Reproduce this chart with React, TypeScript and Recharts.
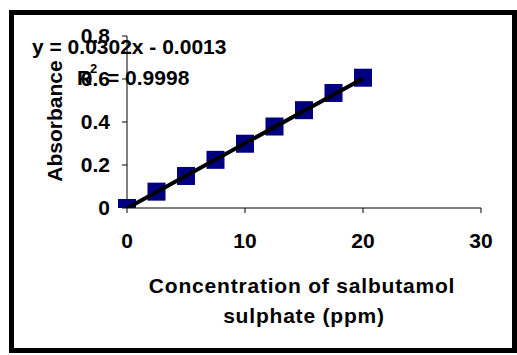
import { ScatterChart, Scatter, XAxis, YAxis } from "recharts";

const concentrations = [0, 2.5, 5, 7.5, 10, 12.5, 15, 17.5, 20];
const absorbances = [0, 0.076, 0.149, 0.224, 0.299, 0.379, 0.455, 0.535, 0.606];
const xTicks = [0, 10, 20, 30];
const yTicks = [0, 0.2, 0.4, 0.6, 0.8];
const slope = 0.0302;
const intercept = -0.0013;
const trendX = [0, 20];

const points = concentrations.map((x, i) => ({ x, y: absorbances[i] }));
const trend = trendX.map((x) => ({ x, y: slope * x + intercept }));

const FONT = "'Liberation Sans', Arial, sans-serif";

const square = (props: any) => {
  const { cx, cy } = props;
  return <rect x={cx - 9} y={cy - 9} width={18} height={18} fill="#000080" />;
};

const tickStyle = { fill: "#000", fontSize: 21, fontWeight: 700, fontFamily: FONT };

export default function App() {
  return (
    <div style={{ position: "absolute", left: 0, top: 0, width: 517, height: 355, background: "#fff" }}>
      <div
        style={{
          position: "absolute",
          left: 9,
          top: 10,
          width: 498,
          height: 333,
          border: "5px solid #000",
        }}
      />
      <div style={{ position: "absolute", left: 0, top: 0 }}>
        <ScatterChart
          width={517}
          height={355}
          margin={{ top: 36, right: 36, bottom: 117, left: 77 }}
        >
          <XAxis
            type="number"
            dataKey="x"
            domain={[0, 30]}
            ticks={xTicks}
            height={30}
            tickSize={5}
            tickMargin={20}
            stroke="#000"
            tick={tickStyle}
            tickLine={{ stroke: "#000" }}
          />
          <YAxis
            type="number"
            dataKey="y"
            domain={[0, 0.8]}
            ticks={yTicks}
            allowDataOverflow
            width={50}
            tickSize={5}
            tickMargin={12}
            stroke="#000"
            tick={tickStyle}
            tickFormatter={(v: number) => String(v)}
          />
          <Scatter data={points} shape={square} isAnimationActive={false} />
          <Scatter
            data={trend}
            line={{ stroke: "#000", strokeWidth: 4 }}
            shape={() => <g />}
            isAnimationActive={false}
          />
        </ScatterChart>
      </div>
      <svg
        width={517}
        height={355}
        style={{ position: "absolute", left: 0, top: 0, pointerEvents: "none" }}
        fontFamily={FONT}
        fontWeight={700}
      >
        <text x={32} y={54} fontSize={21} fill="#000">
          y = 0.0302x - 0.0013
        </text>
        <text x={77} y={85} fontSize={21} fill="#000">
          R
        </text>
        <text x={90} y={73} fontSize={13} fill="#000">
          2
        </text>
        <text x={107} y={85} fontSize={21} fill="#000">
          = 0.9998
        </text>
        <text
          x={0}
          y={0}
          fontSize={21}
          fill="#000"
          textAnchor="middle"
          transform="translate(62,121) rotate(-90)"
        >
          Absorbance
        </text>
        <text x={302} y={293} fontSize={21} fill="#000" textAnchor="middle" letterSpacing={0.8}>
          Concentration of salbutamol
        </text>
        <text x={304} y={323} fontSize={21} fill="#000" textAnchor="middle" letterSpacing={0.8}>
          sulphate (ppm)
        </text>
      </svg>
    </div>
  );
}
